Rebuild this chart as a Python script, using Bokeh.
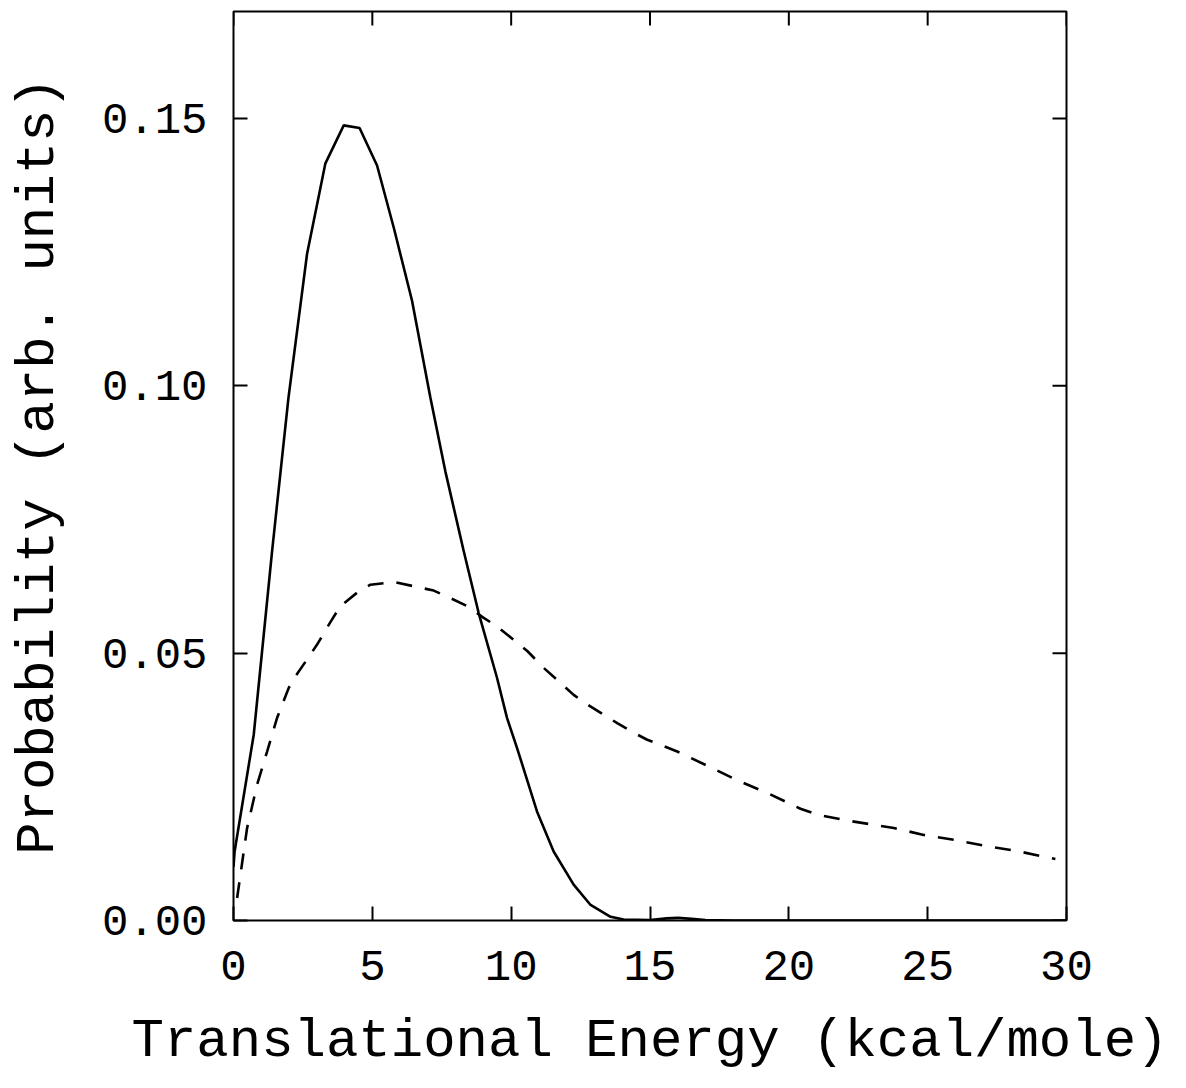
from bokeh.plotting import figure
from bokeh.models import FixedTicker, NumeralTickFormatter, Range1d
from bokeh.embed import file_html
from bokeh.resources import INLINE
import math

# Solid curve
solid_E = [0.0, 0.04, 0.73, 1.39, 1.98, 2.65, 3.31, 3.97, 4.54, 5.17, 5.77, 6.43, 7.09, 7.63, 8.29,
           8.83, 9.49, 9.85, 10.21, 10.93, 11.53, 12.25, 12.86, 13.58, 14.05, 15.0, 15.6, 16.0, 16.5,
           17.0, 18.0, 30.0]
solid_P = [0.010, 0.0129, 0.0348, 0.0691, 0.0978, 0.1247, 0.1416, 0.1487, 0.1482, 0.1412, 0.1296,
           0.1159, 0.0978, 0.0840, 0.0691, 0.0575, 0.0454, 0.0379, 0.0323, 0.0204, 0.0129, 0.0067,
           0.0029, 0.0007, 0.0002, 0.0001, 0.0004, 0.0005, 0.0003, 0.0001, 0.0, 0.0]

# Dashed curve
dash_E = [0.13, 0.49, 0.85, 1.21, 1.57, 1.99, 2.3, 2.7, 3.01, 3.49, 3.85, 4.45, 4.93, 5.77, 6.6,
          7.21, 7.81, 8.41, 9.01, 9.49, 10.09, 10.58, 11.18, 11.66, 12.25, 12.74, 13.33, 13.82,
          14.42, 14.9, 15.5, 15.98, 17.12, 18.2, 19.28, 20.42, 21.02, 22.1, 23.78, 24.86, 25.94,
          27.02, 28.22, 29.3, 29.6]
dash_P = [0.0042, 0.0173, 0.0254, 0.0316, 0.0379, 0.0435, 0.0462, 0.0492, 0.0516, 0.0558, 0.0588,
          0.0613, 0.0628, 0.0633, 0.0624, 0.0617, 0.0603, 0.0588, 0.0566, 0.0550, 0.0525, 0.0504,
          0.0472, 0.0450, 0.0422, 0.0404, 0.0385, 0.0369, 0.0351, 0.0338, 0.0326, 0.0316, 0.0288,
          0.0261, 0.0237, 0.0209, 0.0198, 0.0187, 0.0173, 0.0160, 0.0151, 0.0140, 0.0130, 0.0118,
          0.0115]

x_ticks = [0, 5, 10, 15, 20, 25, 30]
y_ticks = [0.0, 0.05, 0.10, 0.15]
X_MAX = 30
Y_MAX = 0.17

FONT = "Liberation Mono"

p = figure(width=1176, height=1074, output_backend="svg", toolbar_location=None,
           x_range=Range1d(0, X_MAX), y_range=Range1d(0, Y_MAX),
           min_border_left=233, min_border_top=11, min_border_right=110, min_border_bottom=150,
           x_axis_label="Translational Energy (kcal/mole)",
           y_axis_label="Probability (arb. units)")
p.grid.visible = False
p.background_fill_color = "white"
p.border_fill_color = "white"
p.outline_line_color = "black"
p.outline_line_width = 2
p.outline_line_alpha = 1.0

p.line(solid_E, solid_P, line_color="black", line_width=2.6)
p.line(dash_E, dash_P, line_color="black", line_width=2.6, line_dash="16 13")

# inward ticks on the top and right edges (markers clipped to the frame)
p.scatter(x_ticks, [Y_MAX] * len(x_ticks), marker="dash", size=28, angle=math.pi / 2,
          line_color="black", line_width=2)
p.scatter([X_MAX] * len(y_ticks), y_ticks, marker="dash", size=28,
          line_color="black", line_width=2)

for ax in p.xaxis:
    ax.ticker = FixedTicker(ticks=x_ticks)
    ax.formatter = NumeralTickFormatter(format="0")
for ax in p.yaxis:
    ax.ticker = FixedTicker(ticks=y_ticks)
    ax.formatter = NumeralTickFormatter(format="0.00")

for ax in list(p.xaxis) + list(p.yaxis):
    ax.axis_line_color = None
    ax.major_tick_in = 14
    ax.major_tick_out = 0
    ax.major_tick_line_width = 2
    ax.major_tick_line_color = "black"
    ax.minor_tick_line_color = None
    ax.major_label_text_font = FONT
    ax.major_label_text_font_size = "44px"
    ax.major_label_text_color = "black"
    ax.axis_label_text_font = FONT
    ax.axis_label_text_font_size = "54px"
    ax.axis_label_text_font_style = "normal"
    ax.axis_label_text_color = "black"

p.xaxis.major_label_standoff = 30
p.yaxis.major_label_standoff = 26
p.xaxis.axis_label_standoff = 28
p.yaxis.axis_label_standoff = 30

open("out.html", "w").write(file_html(p, INLINE))
